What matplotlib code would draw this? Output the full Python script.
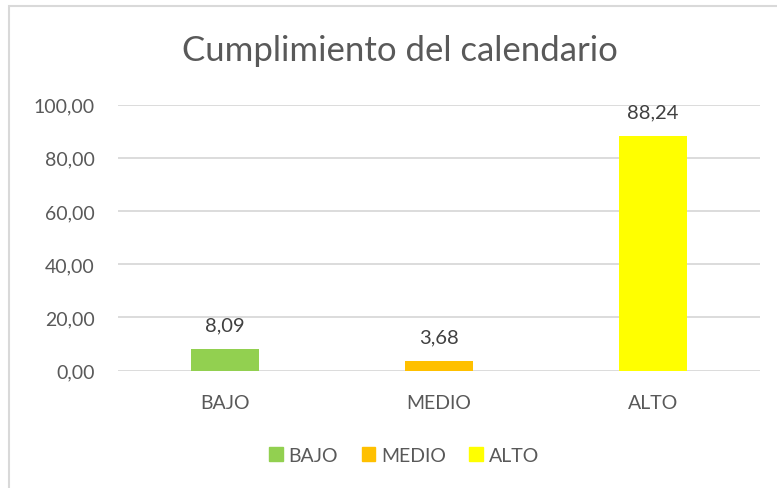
import matplotlib.pyplot as plt
from matplotlib.patches import Patch, Rectangle

categorias = ["BAJO", "MEDIO", "ALTO"]
valores = [8.09, 3.68, 88.24]
colores = ["#92D050", "#FFC000", "#FFFF00"]
ticks_y = [0, 20, 40, 60, 80, 100]

gris = "#595959"
plt.rcParams['font.family'] = ['Lato', 'DejaVu Sans']

fig = plt.figure(figsize=(7.77, 4.89), dpi=100)
ax = fig.add_axes([0.152, 0.24, 0.826, 0.544])

x = range(len(categorias))
barras = ax.bar(x, valores, width=0.318, color=colores, zorder=3)

for xi, v in zip(x, valores):
    ax.annotate(f"{v:.2f}".replace(".", ","), (xi, v), xytext=(0, 11),
                textcoords="offset points", ha="center", va="bottom",
                fontsize=14.5, color="#404040")

ax.set_xlim(-0.5, 2.5)
ax.set_ylim(0, 100)
ax.set_yticks(ticks_y)
ax.set_yticklabels([f"{t:.2f}".replace(".", ",") for t in ticks_y])
ax.set_xticks(list(x))
ax.set_xticklabels(categorias)
ax.tick_params(axis="both", length=0, labelsize=14, colors=gris)
ax.tick_params(axis="y", pad=17)
ax.tick_params(axis="x", pad=17)
ax.grid(axis="y", color="#D9D9D9", linewidth=1.3, zorder=0)
for s in ax.spines.values():
    s.set_visible(False)

fig.text(0.515, 0.896, "Cumplimiento del calendario", ha="center", va="center",
         fontsize=25, color=gris)

handles = [Patch(color=c) for c in colores]
fig.legend(handles, categorias, loc="center", bbox_to_anchor=(0.52, 0.067),
           ncol=3, frameon=False, fontsize=14, labelcolor=gris,
           handlelength=0.7, handleheight=0.7, handletextpad=0.3,
           columnspacing=1.2)

# borde del grafico (recortado a la derecha y abajo)
fig.patches.append(Rectangle((9 / 777, -0.1), 1.2, 1 - 7 / 489 + 0.1,
                             transform=fig.transFigure, fill=False,
                             edgecolor="#D9D9D9", linewidth=1.5))

fig.savefig("out.png", dpi=100)
